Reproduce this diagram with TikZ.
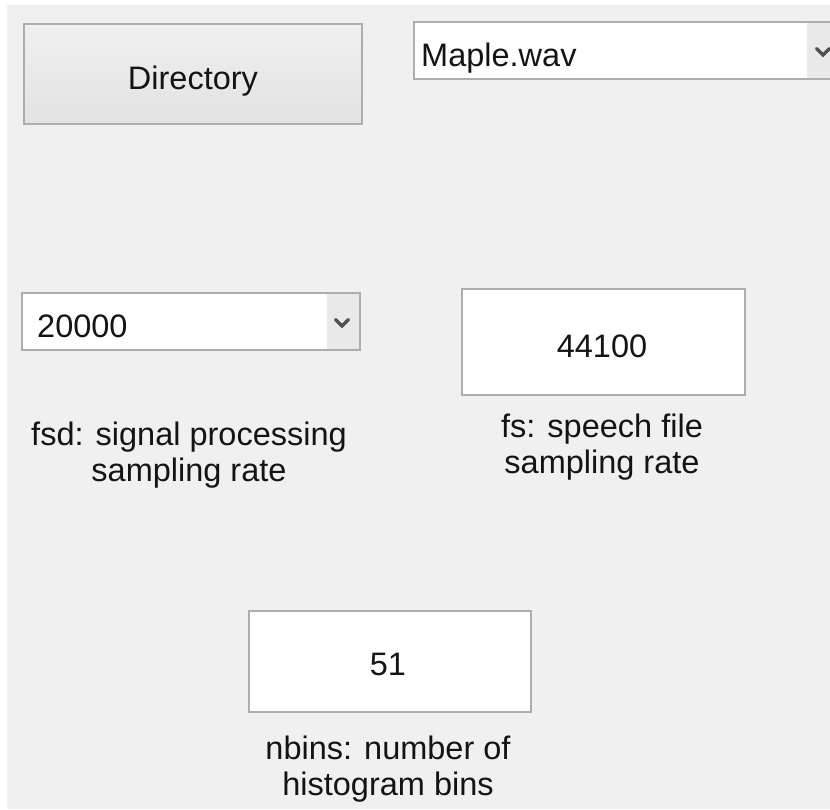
\documentclass[tikz,border=0pt]{standalone}
\usepackage{fontspec}
\setmainfont{Liberation Sans}
\definecolor{bg}{HTML}{F0F0F0}
\definecolor{edge}{HTML}{ADADAD}
\definecolor{txt}{HTML}{141414}
\definecolor{btntop}{HTML}{F0F0F0}
\definecolor{btnbot}{HTML}{E2E2E2}
\definecolor{arrbg}{HTML}{E9E9E9}
\definecolor{chev}{HTML}{505050}
\tikzset{
  box/.style={draw=edge, line width=1.4pt, fill=white, inner sep=0pt, outer sep=0pt, anchor=north west},
  btnbox/.style={box, top color=btntop, bottom color=btnbot},
  lbl/.style={text=txt, inner sep=0pt, font=\fontsize{32.5pt}{36pt}\selectfont},
  mlbl/.style={lbl, align=center},
  chevline/.style={draw=chev, line width=3.4pt, line cap=round, line join=miter}
}
\begin{document}
\begin{tikzpicture}[x=1pt,y=-1pt]
\useasboundingbox (0,0) rectangle (830,809);
\fill[white] (0,0) rectangle (830,809);
\fill[bg] (7,5) rectangle (830,809);
% Directory button
\node[btnbox, minimum width=338pt, minimum height=100pt] (dir) at (24,24) {};
\node[lbl, anchor=base] (dirt) at (193,89) {Directory};
% Maple.wav combobox
\begin{scope}
\clip (0,0) rectangle (830,809);
\node[box, minimum width=430pt, minimum height=57pt] (maple) at (414,22) {};
\fill[arrbg] (807,22.7) rectangle (843,78.3);
\draw[chevline] (816.5,48.5) -- (823,55) -- (829.5,48.5);
\end{scope}
\node[lbl, anchor=base west] (mapt) at (421,66) {Maple.wav};
% 20000 combobox
\node[box, minimum width=338pt, minimum height=57pt] (fsd) at (22,293) {};
\fill[arrbg] (327,293.7) rectangle (359.3,349.3);
\draw[chevline] (335.5,319.5) -- (342,326) -- (348.5,319.5);
\node[lbl, anchor=base west] (fsdt) at (37,337) {20000};
\node[mlbl, anchor=base] (fsdl) at (189,481) {fsd: signal processing\\sampling rate};
% fs box
\node[box, minimum width=283pt, minimum height=106pt] (fs) at (462,289) {};
\node[lbl, anchor=base] (fst) at (602,357) {44100};
\node[mlbl, anchor=base] (fsl) at (602,473) {fs: speech file\\sampling rate};
% nbins box
\node[box, minimum width=282pt, minimum height=101pt] (nb) at (249,611) {};
\node[lbl, anchor=base] (nbt) at (388,675) {51};
\node[mlbl, anchor=base] (nbl) at (388,795) {nbins: number of\\histogram bins};
\end{tikzpicture}
\end{document}
